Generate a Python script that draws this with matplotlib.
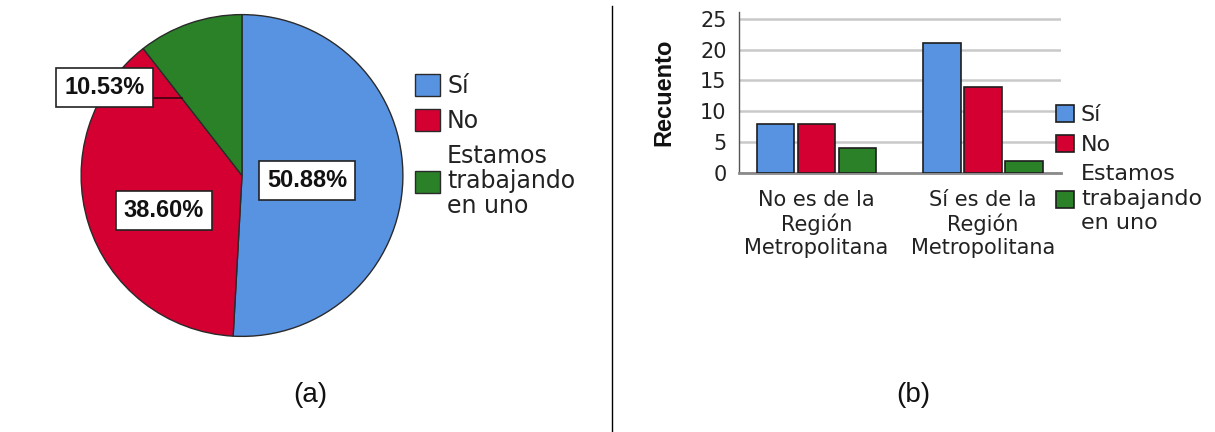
import numpy as np
import matplotlib
matplotlib.use('Agg')
import matplotlib.pyplot as plt

# categories and counts
answers = ['Sí', 'No', 'Estamos\ntrabajando\nen uno']
regions = ['No es de la\nRegión\nMetropolitana', 'Sí es de la\nRegión\nMetropolitana']
count_si = [8, 21]
count_no = [8, 14]
count_trab = [4, 2]
colors = ['#5893e2', '#d40031', '#2a8127']

plt.rcParams['font.family'] = ['DejaVu Sans']

fig = plt.figure(figsize=(12.15, 4.32), dpi=100)
W, H = 1215, 432

# ---------- (a) pie ----------
cx, cy, r = 242, 175.5, 162.5
ax_pie = fig.add_axes([(cx - r) / W, (H - cy - r) / H, 2 * r / W, 2 * r / H])
totals = [sum(count_si), sum(count_no), sum(count_trab)]
pct = [100 * t / sum(totals) for t in totals]
wedges, _ = ax_pie.pie(totals, colors=colors, startangle=90, counterclock=False,
                       radius=1, wedgeprops=dict(edgecolor='#2a2a2a', linewidth=1))
ax_pie.set_xlim(-1.01, 1.01)
ax_pie.set_ylim(-1.01, 1.01)
ax_pie.set_aspect('equal')
ax_pie.axis('off')

label_pos = [(0.406, -0.033), (-0.485, -0.215), (-0.855, 0.545)]
box = dict(boxstyle='square,pad=0.34', facecolor='white', edgecolor='#222222', linewidth=1.2)
for p, (lx, ly) in zip(pct, label_pos):
    ax_pie.text(lx, ly, f'{p:.2f}%', ha='center', va='center', fontsize=17,
                fontweight='bold', family='Liberation Sans', color='#111111',
                bbox=box, zorder=5)
# leader line for the small slice
ax_pie.plot([-0.57, -0.375], [0.479, 0.479], color='#3a0010', lw=1.2, zorder=4)

leg1 = fig.legend(wedges, answers, loc='upper left', bbox_to_anchor=(415 / W, 1 - 74 / H),
                  frameon=False, fontsize=17, handlelength=1.06, handleheight=1.06,
                  handletextpad=0.3, labelspacing=0.46, borderpad=0, borderaxespad=0,
                  labelcolor='#222222')
for t in leg1.get_texts():
    t.set_linespacing(1.06)

# ---------- (b) grouped bars ----------
ax_bar = fig.add_axes([739 / W, (H - 173) / H, 322 / W, 161 / H])
x = np.arange(len(regions))
step = 0.247
bw = 0.225
series = [count_si, count_no, count_trab]
bars = []
for i, (vals, c) in enumerate(zip(series, colors)):
    b = ax_bar.bar(x + (i - 1) * step, vals, width=bw, color=c,
                   edgecolor='#1e1e1e', linewidth=1.2, zorder=3)
    bars.append(b)

ax_bar.set_xlim(-0.465, 1.468)
ax_bar.set_ylim(0, 26.1)
ax_bar.set_yticks([0, 5, 10, 15, 20, 25])
ax_bar.set_xticks(x)
ax_bar.set_xticklabels(regions, fontsize=15, linespacing=1.17, color='#222222')
ax_bar.tick_params(axis='y', length=0, pad=9, labelsize=15, labelcolor='#222222')
ax_bar.tick_params(axis='x', length=0, pad=12.5)
ax_bar.grid(axis='y', color='#c9c9c9', linewidth=1.8, zorder=0)
ax_bar.set_axisbelow(True)
for s in ['top', 'right']:
    ax_bar.spines[s].set_visible(False)
ax_bar.spines['left'].set_color('#555555')
ax_bar.spines['left'].set_linewidth(1.0)
ax_bar.spines['bottom'].set_color('#8a8a8a')
ax_bar.spines['bottom'].set_linewidth(2.0)
ax_bar.set_ylabel('Recuento', fontsize=17, fontweight='bold',
                  family='Liberation Sans', color='#111111', labelpad=18)

leg2 = fig.legend([b[0] for b in bars], answers, loc='upper left',
                  bbox_to_anchor=(1056 / W, 1 - 105 / H), frameon=False, fontsize=16,
                  handlelength=0.82, handleheight=0.82, handletextpad=0.3,
                  labelspacing=0.42, borderpad=0, borderaxespad=0, labelcolor='#222222')
for t in leg2.get_texts():
    t.set_linespacing(1.28)

# ---------- panel captions and divider ----------
fig.text(310 / W, 1 - 395 / H, '(a)', ha='center', va='center', fontsize=20,
         family='Liberation Sans', color='#111111')
fig.text(913 / W, 1 - 395 / H, '(b)', ha='center', va='center', fontsize=20,
         family='Liberation Sans', color='#111111')
fig.add_artist(plt.Line2D([612 / W, 612 / W], [0, 1 - 6 / H], color='black',
                          linewidth=1.0, transform=fig.transFigure))

fig.savefig('out.png', dpi=100)
